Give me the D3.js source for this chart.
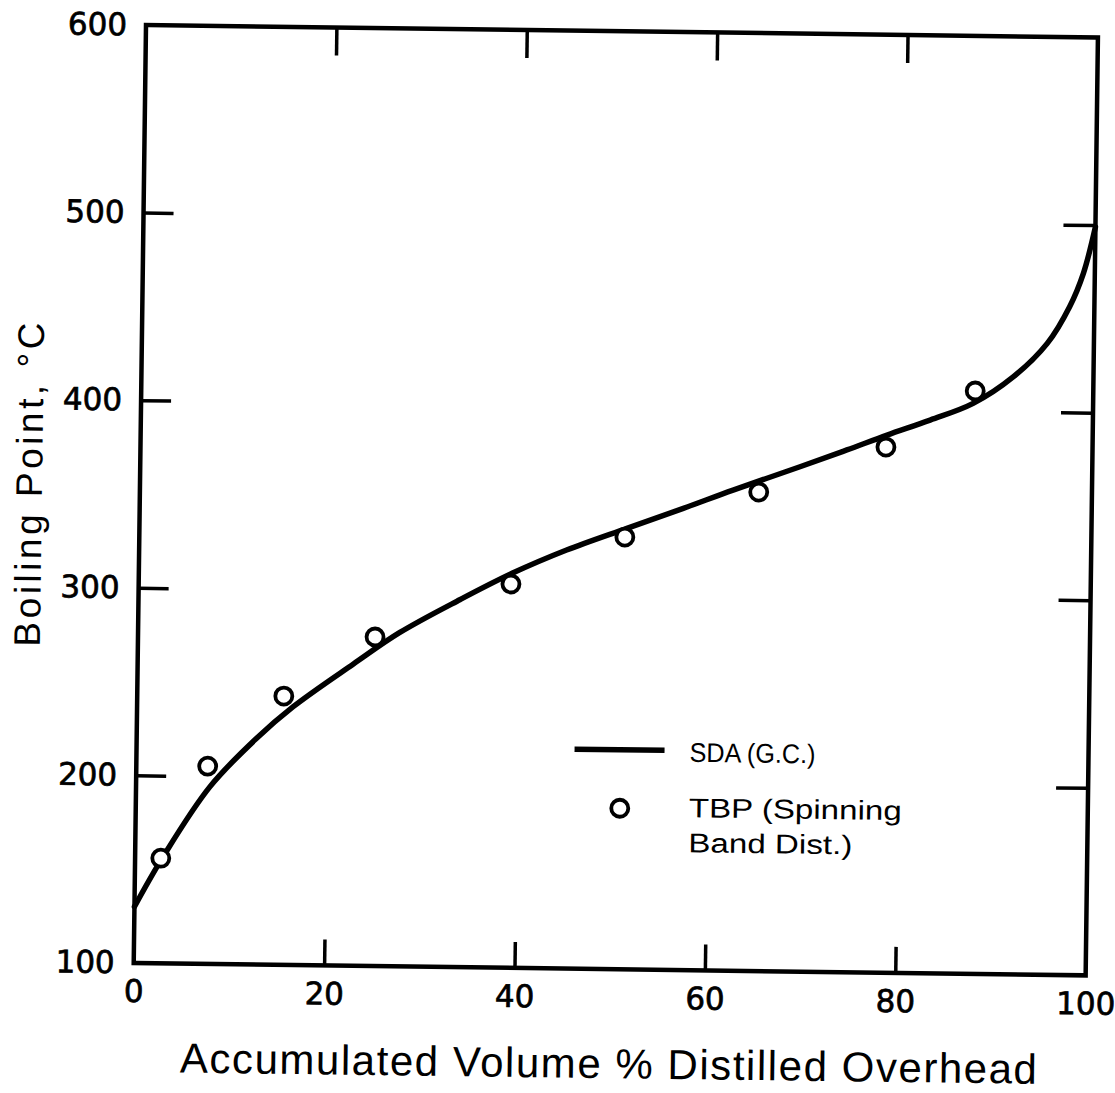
<!DOCTYPE html>
<html>
<head>
<meta charset="utf-8">
<script src="https://cdn.jsdelivr.net/npm/d3@7"></script>
<style>
  html, body { margin: 0; padding: 0; background: #fff; }
  svg { display: block; }
</style>
</head>
<body>
<script>
// ---- data ----
const xTickValues = [0, 20, 40, 60, 80, 100];
const yTickValues = [100, 200, 300, 400, 500, 600];
const sdaX = [0, 2.96, 7.77, 12.6, 16.4, 22.7, 27.5, 33.8, 39.2, 44.9, 51.2, 57.1, 62.3, 69.3, 74.2, 78.4, 82.9, 87.4, 91.6, 95.1, 97.4, 98.8, 100];
const sdaY = [130, 157, 194.5, 220.6, 237.7, 261, 278, 296, 310.3, 323.1, 335.1, 346.1, 356.2, 369.1, 378.4, 386.6, 394.9, 404.1, 418.6, 436.6, 456.3, 474.2, 499];
const tbpX = [2.7, 7.5, 15.4, 24.9, 39.1, 51.0, 65.0, 78.3, 87.6];
const tbpY = [156, 205.4, 243.3, 275.4, 304.6, 330.4, 355.3, 380.2, 410.7];
const xTitle = "Accumulated Volume % Distilled Overhead";
const yTitle = "Boiling Point, °C";
const legendLine = "SDA (G.C.)";
const legendCircle = ["TBP (Spinning", "Band Dist.)"];

// ---- layout ----
const W = 1115, H = 1093;
const pw = 952, ph = 938;
const svg = d3.select("body").append("svg").attr("width", W).attr("height", H);
svg.append("rect").attr("width", W).attr("height", H).attr("fill", "#fff");

const g = svg.append("g").attr("transform", "translate(146,25) rotate(0.75)");

const x = d3.scaleLinear().domain([0, 100]).range([0, pw]);
const y = d3.scaleLinear().domain([100, 600]).range([ph, 0]);

const tickFont = "'DejaVu Sans', sans-serif";
const textFont = "'Liberation Sans', Arial, sans-serif";

const inner = [200, 300, 400, 500];
const innerX = [20, 40, 60, 80];

const left = g.append("g").call(d3.axisLeft(y).tickValues(yTickValues).tickSize(0).tickPadding(19));
const bottom = g.append("g").attr("transform", `translate(0,${ph})`)
  .call(d3.axisBottom(x).tickValues(xTickValues).tickSize(0).tickPadding(17));
[left, bottom].forEach(a => {
  a.select(".domain").remove();
  a.selectAll("text").attr("font-family", tickFont).attr("font-size", 31).attr("fill", "#000")
    .attr("stroke", "#000").attr("stroke-width", 0.7);
});
bottom.selectAll("text").attr("dy", "0.71em");

// inward tick marks
const tl = g.append("g").call(d3.axisRight(y).tickValues(inner).tickSize(30).tickFormat(""));
const tr = g.append("g").attr("transform", `translate(${pw},0)`).call(d3.axisLeft(y).tickValues(inner).tickSize(32).tickFormat(""));
const tb = g.append("g").attr("transform", `translate(0,${ph})`).call(d3.axisTop(x).tickValues(innerX).tickSize(26).tickFormat(""));
const tt = g.append("g").call(d3.axisBottom(x).tickValues(innerX).tickSize(28).tickFormat(""));
[tl, tr, tb, tt].forEach(a => {
  a.select(".domain").remove();
  a.selectAll("line").attr("stroke", "#000").attr("stroke-width", 3.5);
});

// frame
g.append("rect").attr("x", 0).attr("y", 0).attr("width", pw).attr("height", ph)
  .attr("fill", "none").attr("stroke", "#000").attr("stroke-width", 4.5);

// SDA curve
const sda = sdaX.map((v, i) => [v, sdaY[i]]);
const line = d3.line().x(d => x(d[0])).y(d => y(d[1])).curve(d3.curveCatmullRom.alpha(0.5));
g.append("path").datum(sda).attr("d", line).attr("fill", "none")
  .attr("stroke", "#000").attr("stroke-width", 5.5).attr("stroke-linecap", "round");

// TBP points
const tbp = tbpX.map((v, i) => [v, tbpY[i]]);
g.selectAll("circle.tbp").data(tbp).enter().append("circle").attr("class", "tbp")
  .attr("cx", d => x(d[0])).attr("cy", d => y(d[1])).attr("r", 8.5)
  .attr("fill", "#fff").attr("stroke", "#000").attr("stroke-width", 3.8);

// legend
g.append("line").attr("x1", 438).attr("x2", 528).attr("y1", 718.5).attr("y2", 718.5)
  .attr("stroke", "#000").attr("stroke-width", 5.5);
g.append("text").attr("x", 553).attr("y", 729.5).text(legendLine)
  .attr("font-family", textFont).attr("font-size", 27).attr("textLength", 126).attr("lengthAdjust", "spacingAndGlyphs");
g.append("circle").attr("cx", 484).attr("cy", 777).attr("r", 8.5)
  .attr("fill", "#fff").attr("stroke", "#000").attr("stroke-width", 3.8);
g.append("text").attr("x", 553).attr("y", 785).text(legendCircle[0])
  .attr("font-family", textFont).attr("font-size", 27).attr("textLength", 213).attr("lengthAdjust", "spacingAndGlyphs");
g.append("text").attr("x", 553).attr("y", 820).text(legendCircle[1])
  .attr("font-family", textFont).attr("font-size", 27).attr("textLength", 164).attr("lengthAdjust", "spacingAndGlyphs");

// axis titles
g.append("text").attr("x", pw / 2).attr("y", 1047).attr("text-anchor", "middle")
  .attr("font-family", textFont).attr("font-size", 42)
  .attr("textLength", 857).attr("lengthAdjust", "spacing").text(xTitle);
g.append("text").attr("transform", "translate(-98,461) rotate(-90)").attr("text-anchor", "middle")
  .attr("font-family", textFont).attr("font-size", 37)
  .attr("textLength", 324).attr("lengthAdjust", "spacing").text(yTitle);
</script>
</body>
</html>
